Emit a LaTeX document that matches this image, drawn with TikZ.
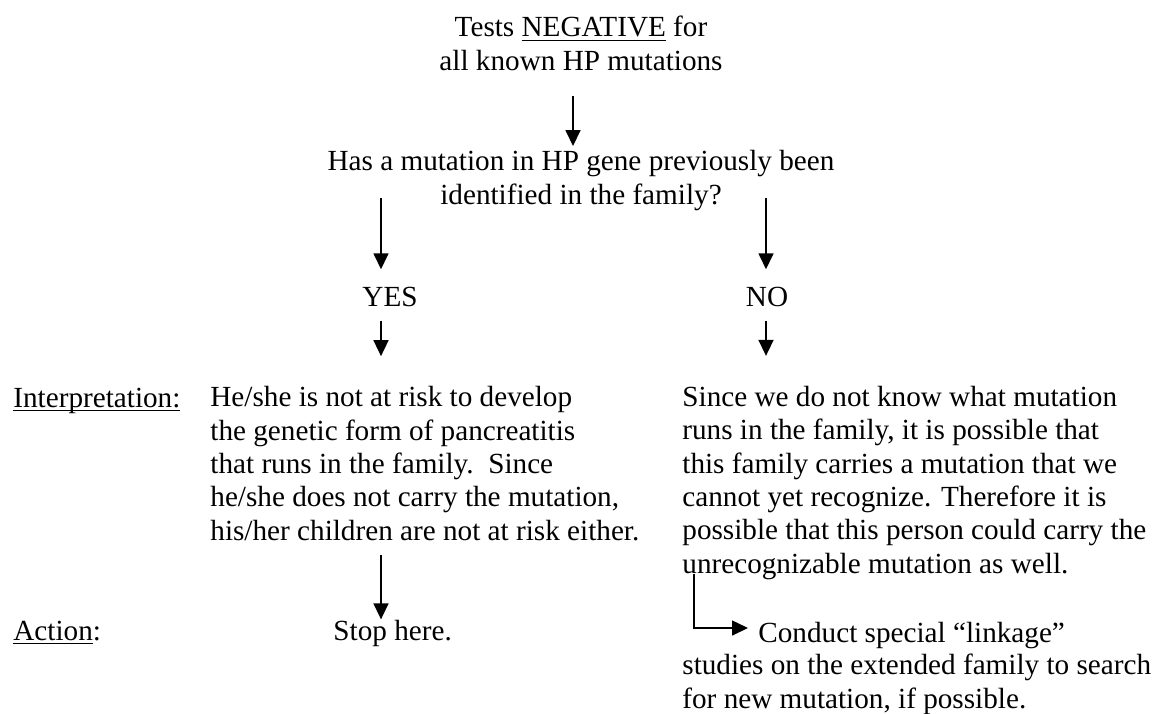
\documentclass[tikz,border=0pt]{standalone}
\usepackage{fontspec}
\setmainfont{Liberation Serif}
\usepackage{tikz}
\usetikzlibrary{arrows.meta}

% Word-style underline close to the baseline:
\newlength{\wullen}
\newcommand{\wul}[1]{\settowidth{\wullen}{#1}\rlap{\rule[-2.2pt]{\wullen}{0.7pt}}#1}

\begin{document}
\begin{tikzpicture}[x=0.5pt, y=-0.5pt,
  txt/.style={inner sep=0pt, font=\fontsize{14.6pt}{16.65pt}\selectfont},
  arr/.style={-{Triangle[length=8pt,width=7.5pt]}, line width=0.8pt}]
\useasboundingbox (0,0) rectangle (1155,713);
% Start and question (base = last line):
\node[txt, align=center, anchor=base] (neg) at (581,70) {Tests \wul{NEGATIVE} for\\all known HP mutations};
\node[txt, align=center, anchor=base] (quest) at (581,204) {Has a mutation in HP gene previously been\\identified in the family?};
\node[txt, anchor=base] (yes) at (390,306) {YES};
\node[txt, anchor=base] (no) at (767,306) {NO};
% Row labels:
\node[txt, anchor=base west] (interp) at (13,407) {\wul{Interpretation:}};
\node[txt, anchor=base west] (action) at (13,640) {\wul{Action}:};
% Interpretation of both answers:
\node[txt, align=left, anchor=base west] (risk) at (210,540) {He/she is not at risk to develop\\the genetic form of pancreatitis\\that runs in the family.\ \ Since\\he/she does not carry the mutation,\\his/her children are not at risk either.};
\node[txt, align=left, anchor=base west] (unknown) at (682,573) {Since we do not know what mutation\\runs in the family, it is possible that\\this family carries a mutation that we\\cannot yet recognize. Therefore it is\\possible that this person could carry the\\unrecognizable mutation as well.};
% Actions:
\node[txt, anchor=base west] (stop) at (333,640) {Stop here.};
\node[txt, anchor=base west] (linkage) at (758,642) {Conduct special “linkage”};
\node[txt, align=left, anchor=base west] (search) at (682,708) {studies on the extended family to search\\for new mutation, if possible.};
% Arrows:
\coordinate (yestop) at (381,198);
\coordinate (notop) at (766,198);
\coordinate (bend) at (694,628);
\draw[arr, shorten <=12.5pt, shorten >=2pt] (573,0 |- neg.south) -- (573,0 |- quest.north);
\draw[arr, shorten >=8.5pt] (yestop) -- (yestop |- yes.north);
\draw[arr, shorten >=8.5pt] (notop) -- (notop |- no.north);
\draw[arr, shorten <=7pt, shorten >=15pt] (yestop |- yes.south) -- (yestop |- risk.north);
\draw[arr, shorten <=7pt, shorten >=15pt] (notop |- no.south) -- (notop |- unknown.north);
\draw[arr, shorten <=7pt] (yestop |- risk.south) -- (yestop |- stop.north);
\draw[arr, shorten <=-3pt, shorten >=5pt] (bend |- unknown.south) -- (bend) -- (linkage.west |- bend);
\end{tikzpicture}
\end{document}
